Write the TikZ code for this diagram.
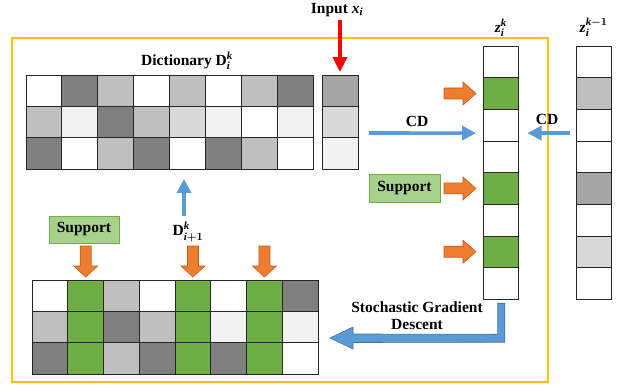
\documentclass[tikz,border=0pt]{standalone}
\usepackage{amsmath}
\usepackage{fontspec}
\setmainfont{Liberation Serif}
\usetikzlibrary{arrows.meta,calc}
\newcommand{\bitx}[1]{\text{\bfseries\itshape #1}}
\newcommand{\bupx}[1]{\text{\bfseries\upshape #1}}
\definecolor{g0}{HTML}{FFFFFF}
\definecolor{g1}{HTML}{F2F2F2}
\definecolor{g2}{HTML}{D9D9D9}
\definecolor{g3}{HTML}{BFBFBF}
\definecolor{g4}{HTML}{A6A6A6}
\definecolor{g5}{HTML}{808080}
\definecolor{gG}{HTML}{70AD47}
\definecolor{suppfill}{HTML}{A9D18E}
\definecolor{suppdraw}{HTML}{70AD47}
\definecolor{orng}{HTML}{ED7D31}
\definecolor{orngd}{HTML}{C55A11}
\definecolor{blu}{HTML}{5B9BD5}
\definecolor{blud}{HTML}{41719C}
\definecolor{frame}{HTML}{FFC000}
\begin{document}
\begin{tikzpicture}[x=1pt,y=-1pt,
  font=\fontsize{15.5}{18}\selectfont\bfseries\boldmath,
  cell/.style={draw=black!85,line width=0.8pt,inner sep=0pt,outer sep=0pt,anchor=north west},
  dcell/.style={cell,minimum width=35.9pt,minimum height=31.33pt},
  zcell/.style={cell,minimum width=35.5pt,minimum height=31.65pt},
  lbl/.style={inner sep=0pt},
  supp/.style={draw=suppdraw,fill=suppfill,line width=0.8pt,minimum width=70pt,minimum height=27pt,inner sep=0pt},
  barrow/.style={draw=blu,line width=3.6pt,-{Triangle[length=14pt,width=14pt]}},
  oarrow/.style={fill=orng,draw=orngd,line width=0.6pt},
  rarr/.pic={\path[oarrow] (-32,-5.5) -- (-13,-5.5) -- (-13,-11.5) -- (0,0) -- (-13,11.5) -- (-13,5.5) -- (-32,5.5) -- cycle;},
  darr/.pic={\path[oarrow] (-5.5,-31) -- (-5.5,-11) -- (-12,-11) -- (0,0) -- (12,-11) -- (5.5,-11) -- (5.5,-31) -- cycle;}
]
\useasboundingbox (0,0) rectangle (628,389);
% frame
\draw[frame,line width=2pt] (12,38) rectangle (548,382);
% top dictionary
\foreach \row [count=\r] in {{0,5,3,0,3,0,3,5},{3,1,5,3,2,1,0,1},{5,0,3,5,0,5,3,0}}{
  \foreach \v [count=\c] in \row {
    \node[dcell,fill=g\v] (t-\r-\c) at ({26+35.875*(\c-1)},{75+31.33*(\r-1)}) {};
  }
}
% input column
\foreach \v [count=\r] in {4,2,1}{
  \node[dcell,fill=g\v] (in-\r) at (322,{75+31.33*(\r-1)}) {};
}
% bottom dictionary
\foreach \row [count=\r] in {{0,G,3,0,G,0,G,5},{3,G,5,3,G,1,G,1},{5,G,3,5,G,5,G,0}}{
  \foreach \v [count=\c] in \row {
    \node[dcell,fill=g\v] (b-\r-\c) at ({32+35.75*(\c-1)},{280+31.33*(\r-1)}) {};
  }
}
% z^k column
\foreach \v [count=\r] in {0,G,0,0,G,0,G,0}{
  \node[zcell,fill=g\v] (z-\r) at (483,{46+31.65*(\r-1)}) {};
}
% z^{k-1} column
\foreach \v [count=\r] in {0,3,0,0,4,0,2,0}{
  \node[zcell,fill=g\v] (p-\r) at (576,{46+31.65*(\r-1)}) {};
}
% labels
\node[lbl] (dictlbl) at (187,61) {Dictionary $\bupx{D}_{\bitx{i}}^{\bitx{k}}$};
\node[lbl] (inlbl) at (337,10) {Input $\bitx{x}_{\bitx{i}}$};
\node[lbl] (zlbl) at (z-1.north) [above=9pt] {$\bitx{z}_{\bitx{i}}^{\bitx{k}}$};
\node[lbl] (plbl) at (p-1.north) [above=9pt] {$\bitx{z}_{\bitx{i}}^{\bitx{k}-1}$};
\node[lbl] (dnext) at (188,232) {$\bupx{D}_{\bitx{i}+1}^{\bitx{k}}$};
\node[lbl] (cd1) at (417,121) {CD};
\node[lbl] (cd2) at (547,119) {CD};
\node[lbl,align=center] (sgd) at (417,316) {Stochastic Gradient\\[-1pt]Descent};
% support boxes
\node[supp,minimum width=71pt,minimum height=28pt] (supp1) at (404.5,188) {Support};
\node[supp] (supp2) at (84,229.5) {Support};
% red input arrow
\coordinate (redstart) at ($(in-1.north)+(0,-55)$);
\draw[draw=red,line width=4.5pt,-{Triangle[length=15pt,width=14pt]}] (redstart) -- ($(in-1.north)+(0,-3)$);
% blue CD arrows
\coordinate (cdA) at ($(in-2.east)+(11,11)$);
\coordinate (cdB) at ($(z-3.west)+(-7,8)$);
\draw[barrow] (cdA) -- (cdB);
\coordinate (cdC) at ($(p-3.west)+(-6,8)$);
\coordinate (cdD) at ($(z-3.east)+(9,8)$);
\draw[barrow] (cdC) -- (cdD);
% blue up arrow
\coordinate (upA) at ($(dnext.north)+(-4,-6)$);
\coordinate (upB) at ($(upA |- t-3-5.south)+(0,10)$);
\draw[barrow] (upA) -- (upB);
% orange right arrows
\pic at ($(z-2.west)+(-7,0)$) {rarr};
\pic at ($(z-5.west)+(-7,0)$) {rarr};
\pic at ($(z-7.west)+(-7,0)$) {rarr};
% orange down arrows
\pic at ($(b-1-2.north)+(0,-3)$) {darr};
\pic at ($(b-1-5.north)+(0,-3)$) {darr};
\pic at ($(b-1-7.north)+(0,-3)$) {darr};
% SGD block arrow
\path[fill=blu,draw=blud,line width=0.6pt]
  ($(z-8.south)+(-3,4)$) -- ($(z-8.south)+(4,4)$) -- ($(z-8.south)+(4,43)$)
  -- (353,342.5) -- (353,349) -- (330,338) -- (353,327) -- (353,334) -- ($(z-8.south)+(-3,334-299)$) -- cycle;
\end{tikzpicture}
\end{document}
